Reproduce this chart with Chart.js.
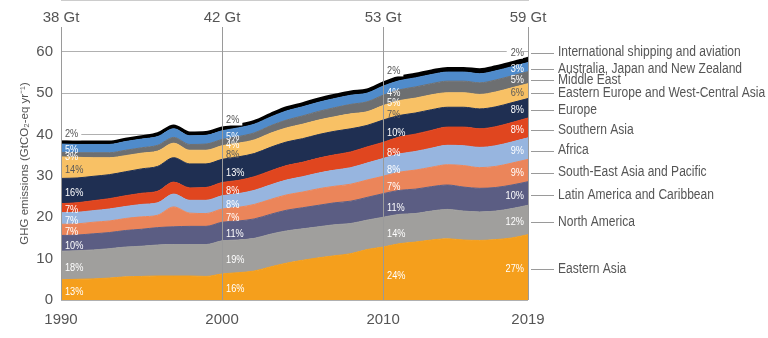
<!DOCTYPE html>
<html>
<head>
<meta charset="utf-8">
<script src="https://cdn.jsdelivr.net/npm/chart.js@4.4.1/dist/chart.umd.min.js"></script>
<style>
  html, body { margin: 0; padding: 0; background: #ffffff; }
  #wrap { width: 768px; height: 338px; }
</style>
</head>
<body>
<div id="wrap"><canvas id="c" width="768" height="338"></canvas></div>
<script>
// ---------- DATA ----------
const years = [1990,1991,1992,1993,1994,1995,1996,1997,1998,1999,2000,2001,2002,2003,2004,2005,2006,2007,2008,2009,2010,2011,2012,2013,2014,2015,2016,2017,2018,2019];

const eastAsia      = [4.9,5.0,5.1,5.3,5.6,5.7,5.8,5.8,5.8,5.7,6.3,6.6,7.0,8.0,8.9,9.6,10.2,10.7,11.2,12.2,12.8,13.6,14.0,14.5,14.8,14.5,14.4,14.6,15.0,15.8];
const northAmerica  = [6.9,6.9,7.0,7.1,7.2,7.3,7.5,7.6,7.6,7.7,8.0,7.9,7.9,7.9,7.8,7.6,7.5,7.5,7.3,7.1,7.2,7.1,6.9,7.0,7.1,7.0,6.9,6.9,7.1,7.1];
const latinAmerica  = [3.8,3.8,3.9,3.9,4.0,4.1,4.2,4.3,4.4,4.4,4.5,4.6,4.7,4.8,5.0,5.1,5.2,5.3,5.4,5.5,5.7,5.8,5.9,5.9,5.9,5.8,5.7,5.7,5.7,5.7];
const seAsiaPacific = [2.7,2.7,2.8,2.8,2.9,3.0,3.0,4.8,3.2,3.1,3.2,3.3,3.5,3.6,3.7,3.8,4.0,4.0,4.1,4.2,4.2,4.4,4.6,4.7,4.9,5.2,5.0,5.1,5.3,5.4];
const africa        = [2.8,2.8,2.8,2.9,2.9,3.0,3.0,3.1,3.1,3.2,3.2,3.3,3.4,3.5,3.6,3.7,3.8,3.9,4.0,4.1,4.3,4.4,4.5,4.6,4.7,4.8,4.9,5.0,5.1,5.2];
const southernAsia  = [2.2,2.3,2.4,2.5,2.6,2.7,2.8,2.9,3.0,3.1,3.2,3.2,3.3,3.4,3.5,3.5,3.6,3.7,3.8,3.9,3.9,4.1,4.2,4.3,4.4,4.5,4.5,4.6,4.7,4.8];
const europe        = [6.1,6.0,5.9,5.8,5.8,5.9,6.0,5.9,5.8,5.7,5.6,5.7,5.6,5.7,5.7,5.7,5.7,5.7,5.6,5.2,5.4,5.2,5.1,5.0,4.8,4.8,4.8,4.8,4.8,4.7];
const eastEuropeWCA = [5.2,5.0,4.5,4.1,3.9,3.8,3.7,3.5,3.3,3.3,3.3,3.3,3.3,3.4,3.4,3.5,3.5,3.5,3.6,3.3,3.5,3.6,3.6,3.6,3.5,3.5,3.5,3.6,3.6,3.6];
const middleEast    = [1.1,1.1,1.2,1.2,1.3,1.3,1.4,1.4,1.4,1.5,1.5,1.6,1.7,1.8,1.9,2.0,2.1,2.2,2.3,2.4,2.5,2.6,2.7,2.7,2.8,2.8,2.8,2.9,2.9,2.9];
const ausJapanNZ    = [2.0,2.0,2.0,2.0,2.1,2.1,2.1,2.1,2.1,2.1,2.1,2.1,2.1,2.1,2.2,2.2,2.2,2.2,2.2,2.1,2.2,2.2,2.2,2.2,2.2,2.2,2.2,2.2,2.2,2.2];
const intlTransport = [0.7,0.7,0.7,0.7,0.7,0.7,0.8,0.8,0.8,0.8,0.8,0.8,0.8,0.8,0.9,0.9,0.9,0.9,0.9,0.9,0.9,1.0,1.0,1.0,1.0,1.0,1.1,1.1,1.1,1.2];

const seriesNames = ['Eastern Asia','North America','Latin America and Caribbean','South-East Asia and Pacific','Africa','Southern Asia','Europe','Eastern Europe and West-Central Asia','Middle East','Australia, Japan and New Zealand','International shipping and aviation'];

const tickYears   = [1990, 2000, 2010, 2019];
const totalLabels = ['38 Gt', '42 Gt', '53 Gt', '59 Gt'];
const yTicks      = [0, 10, 20, 30, 40, 50, 60];

// share labels (%) at each marked year, bottom series first
const pct1990 = [13, 18, 10, 7, 7, 7, 16, 14, 3, 5, 2];
const pct2000 = [16, 19, 11, 7, 8, 8, 13, 8, 4, 5, 2];
const pct2010 = [24, 14, 11, 7, 8, 8, 10, 7, 5, 4, 2];
const pct2019 = [27, 12, 10, 9, 9, 8, 8, 6, 5, 3, 2];

// ---------- STYLE ----------
const seriesValues = [eastAsia, northAmerica, latinAmerica, seAsiaPacific, africa, southernAsia, europe, eastEuropeWCA, middleEast, ausJapanNZ, intlTransport];
const colors = ['#F59F1C','#A09F9D','#5B5D83','#EB855A','#97B5DF','#E0461F','#1F2F52','#F8C165','#6D6F71','#4F8BCB','#000000'];
const labelColors = ['#ffffff','#ffffff','#ffffff','#ffffff','#ffffff','#ffffff','#ffffff','#5a5a5a','#ffffff','#ffffff','#555555'];
const FONT = '"Liberation Sans", Arial, sans-serif';
const TEXT = '#555555';
const intlLift = [7, 8, 12, 5];

const datasets = seriesValues.map((vals, i) => ({
  label: seriesNames[i],
  data: years.map((yr, k) => ({ x: yr, y: vals[k] })),
  backgroundColor: colors[i],
  borderColor: colors[i],
  borderWidth: i === seriesValues.length - 1 ? 2 : 1,
  pointRadius: 0,
  fill: i === 0 ? 'origin' : '-1',
  cubicInterpolationMode: 'monotone',
  xAxisID: 'x',
  yAxisID: 'y'
}));

function cumAt(idx) {
  const res = [];
  let acc = 0;
  for (let i = 0; i < seriesValues.length; i++) {
    const b = acc; acc += seriesValues[i][idx];
    res.push([b, acc]);
  }
  return res;
}

// draw horizontally condensed text (to mimic the narrow typeface of the original)
function narrowText(ctx, txt, x, y, align, k) {
  const w = ctx.measureText(txt).width * k;
  let x0 = x;
  if (align === 'right') x0 = x - w;
  else if (align === 'center') x0 = x - w / 2;
  ctx.save();
  ctx.translate(x0, y);
  ctx.scale(k, 1);
  ctx.textAlign = 'left';
  ctx.fillText(txt, 0, 0);
  ctx.restore();
  return w;
}

const labelPlugin = {
  id: 'labels',
  afterDraw(chart) {
    const ctx = chart.ctx;
    const ys = chart.scales.y;
    const xs = chart.scales.x;
    const pctSets = [pct1990, pct2000, pct2010, pct2019];
    const K = 0.8;
    ctx.save();
    ctx.font = '11.5px ' + FONT;
    ctx.textBaseline = 'middle';
    tickYears.forEach((yr, a) => {
      const idx = years.indexOf(yr);
      const cum = cumAt(idx);
      const last = a === tickYears.length - 1;
      const px = xs.getPixelForValue(yr);
      pctSets[a].forEach((p, i) => {
        const txt = p + '%';
        let y;
        if (i === seriesValues.length - 1) {
          y = ys.getPixelForValue(cum[i][1]) - intlLift[a];
          const w = ctx.measureText(txt).width * K;
          ctx.fillStyle = '#ffffff';
          if (last) ctx.fillRect(px - 4 - w - 4, y - 6, w + 3, 12);
          else ctx.fillRect(px + 1, y - 6, w + 6, 12);
        } else {
          y = ys.getPixelForValue((cum[i][0] + cum[i][1]) / 2) + 2;
        }
        ctx.fillStyle = labelColors[i];
        if (last) narrowText(ctx, txt, px - 4, y, 'right', K);
        else narrowText(ctx, txt, px + 4, y, 'left', K);
      });
    });
    // series names with leader lines at the right
    const idx = years.length - 1;
    const cum = cumAt(idx);
    const xEnd = xs.getPixelForValue(years[idx]);
    ctx.font = '14px ' + FONT;
    seriesNames.forEach((name, i) => {
      let y;
      if (i === seriesValues.length - 1) y = ys.getPixelForValue(cum[i][1]) - intlLift[3];
      else y = ys.getPixelForValue((cum[i][0] + cum[i][1]) / 2) + 2;
      ctx.strokeStyle = '#9a9a9a';
      ctx.lineWidth = 1;
      ctx.beginPath();
      ctx.moveTo(xEnd + 3, Math.round(y) + 0.5);
      ctx.lineTo(xEnd + 26, Math.round(y) + 0.5);
      ctx.stroke();
      ctx.fillStyle = TEXT;
      narrowText(ctx, name, xEnd + 30, y, 'left', 0.86);
    });
    ctx.restore();
  }
};

new Chart(document.getElementById('c'), {
  type: 'line',
  data: { datasets },
  options: {
    responsive: false,
    animation: false,
    devicePixelRatio: 1,
    layout: { padding: { left: 0, right: 240, top: 0, bottom: 0 } },
    plugins: { legend: { display: false }, tooltip: { enabled: false } },
    elements: { line: { tension: 0 } },
    scales: {
      x: {
        type: 'linear', position: 'bottom', min: 1990, max: 2019,
        afterBuildTicks: s => { s.ticks = tickYears.map(v => ({ value: v })); },
        afterFit: s => { s.height = 38; },
        grid: { display: true, z: 1, color: '#9a9a9a', lineWidth: 1, drawTicks: false },
        border: { display: true, color: '#9a9a9a' },
        ticks: { padding: 11, color: TEXT, font: { family: FONT, size: 15 }, callback: v => String(v), maxRotation: 0 }
      },
      xTop: {
        type: 'linear', position: 'top', min: 1990, max: 2019,
        afterBuildTicks: s => { s.ticks = tickYears.map(v => ({ value: v })); },
        afterFit: s => { s.height = 27; },
        grid: { display: false, drawTicks: false },
        border: { display: false },
        ticks: { padding: 0, color: TEXT, font: { family: FONT, size: 15 }, maxRotation: 0,
          callback: v => { const k = tickYears.indexOf(v); return k >= 0 ? totalLabels[k] : ''; } }
      },
      y: {
        type: 'linear', stacked: true, min: 0, max: 66,
        afterBuildTicks: s => { s.ticks = yTicks.map(v => ({ value: v })); },
        afterFit: s => { s.width = 61; },
        grid: { color: '#b0b0b0', lineWidth: 1, drawTicks: false },
        border: { display: false },
        ticks: { padding: 8, color: TEXT, font: { family: FONT, size: 15 } },
        title: { display: true, text: 'GHG emissions (GtCO₂-eq yr⁻¹)', color: TEXT,
          font: { family: FONT, size: 11.5 }, padding: { top: 18, bottom: 0 } }
      }
    }
  },
  plugins: [labelPlugin]
});
</script>
</body>
</html>
